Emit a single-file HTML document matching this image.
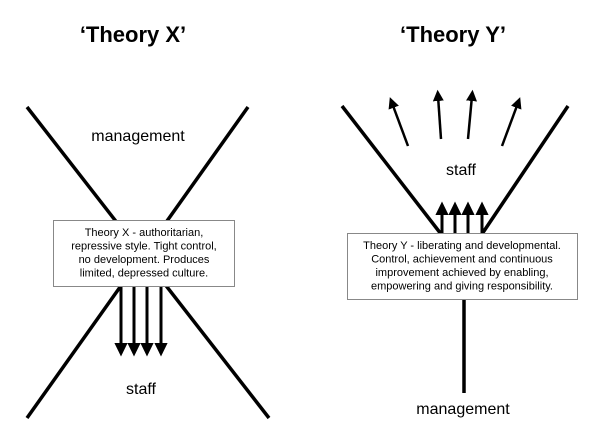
<!DOCTYPE html>
<html><head><style>
html,body{margin:0;padding:0;background:#fff;}
svg{display:block;}
text{font-family:"Liberation Sans",sans-serif;}
</style></head><body>
<svg width="600" height="433" viewBox="0 0 600 433" xmlns="http://www.w3.org/2000/svg">
<defs>
<marker id="ah" markerWidth="5" markerHeight="5" refX="2" refY="2.5" orient="auto" markerUnits="strokeWidth">
<path d="M0,0.3 L4.5,2.5 L0,4.7 Z" fill="#000"/>
</marker>
</defs>
<text x="133" y="42" font-size="22" font-weight="bold" text-anchor="middle">‘Theory X’</text>
<text x="453" y="42" font-size="22" font-weight="bold" text-anchor="middle">‘Theory Y’</text>

<!-- Theory X -->
<g stroke="#000" stroke-width="3.5" fill="none">
<line x1="27" y1="107" x2="269" y2="418"/>
<line x1="248" y1="107" x2="27" y2="418"/>
</g>
<text x="138" y="141" font-size="16" text-anchor="middle">management</text>
<g stroke="#000" stroke-width="3">
<line x1="121" y1="287" x2="121" y2="349" marker-end="url(#ah)"/>
<line x1="134" y1="287" x2="134" y2="349" marker-end="url(#ah)"/>
<line x1="147" y1="287" x2="147" y2="349" marker-end="url(#ah)"/>
<line x1="161" y1="287" x2="161" y2="349" marker-end="url(#ah)"/>
</g>
<rect x="53.5" y="220.5" width="181" height="66" fill="#fff" stroke="#888" stroke-width="1"/>
<g font-size="11" text-anchor="middle">
<text x="144" y="236">Theory X - authoritarian,</text>
<text x="144" y="249.5">repressive style.  Tight control,</text>
<text x="144" y="263">no development.  Produces</text>
<text x="144" y="276.5">limited, depressed culture.</text>
</g>
<text x="141" y="394" font-size="16" text-anchor="middle">staff</text>

<!-- Theory Y -->
<g stroke="#000" stroke-width="3.5" fill="none">
<line x1="342" y1="106" x2="441" y2="234"/>
<line x1="568" y1="106" x2="482" y2="234"/>
<line x1="464" y1="300" x2="464" y2="393"/>
</g>
<g stroke="#000" stroke-width="2.5">
<line x1="408" y1="146" x2="392" y2="103" marker-end="url(#ah)"/>
<line x1="441" y1="139" x2="438" y2="96" marker-end="url(#ah)"/>
<line x1="468" y1="139" x2="472" y2="96" marker-end="url(#ah)"/>
<line x1="502" y1="146" x2="518" y2="103" marker-end="url(#ah)"/>
</g>
<g stroke="#000" stroke-width="3">
<line x1="442" y1="233" x2="442" y2="209" marker-end="url(#ah)"/>
<line x1="455" y1="233" x2="455" y2="209" marker-end="url(#ah)"/>
<line x1="468" y1="233" x2="468" y2="209" marker-end="url(#ah)"/>
<line x1="482" y1="233" x2="482" y2="209" marker-end="url(#ah)"/>
</g>
<text x="461" y="175" font-size="16" text-anchor="middle">staff</text>
<rect x="347.5" y="233.5" width="230" height="66" fill="#fff" stroke="#888" stroke-width="1"/>
<g font-size="11" text-anchor="middle">
<text x="462" y="249">Theory Y - liberating and  developmental.</text>
<text x="462" y="262.5">Control, achievement and continuous</text>
<text x="462" y="276">improvement achieved by enabling,</text>
<text x="462" y="289.5">empowering and giving responsibility.</text>
</g>
<text x="463" y="414" font-size="16" text-anchor="middle">management</text>
</svg>
</body></html>
